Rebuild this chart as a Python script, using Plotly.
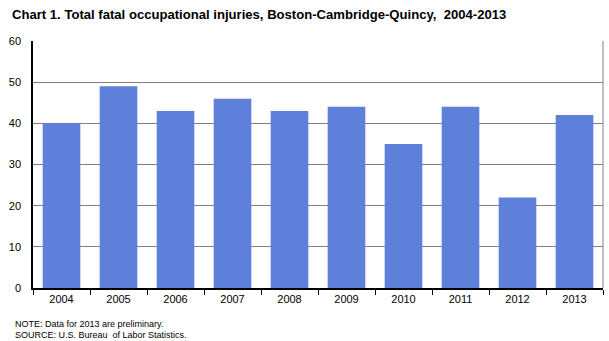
import plotly.graph_objects as go

years = ["2004", "2005", "2006", "2007", "2008", "2009", "2010", "2011", "2012", "2013"]
fatal_injuries = [40, 49, 43, 46, 43, 44, 35, 44, 22, 42]
y_ticks = [0, 10, 20, 30, 40, 50, 60]

fig = go.Figure(
    go.Bar(
        x=years,
        y=fatal_injuries,
        marker=dict(color="#5f80da", line=dict(width=0)),
        width=0.66,
    )
)

fig.update_layout(
    width=609,
    height=341,
    margin=dict(l=33, r=6, t=41, b=53),
    paper_bgcolor="white",
    plot_bgcolor="white",
    showlegend=False,
    font=dict(family="Arial, Liberation Sans, sans-serif", size=11, color="#000"),
    title=dict(
        text="<b>Chart 1. Total fatal occupational injuries, Boston-Cambridge-Quincy,  2004-2013</b>",
        x=0.0,
        xref="paper",
        xanchor="left",
        y=0.957,
        yanchor="middle",
        font=dict(size=13.1, family="Arial, Liberation Sans, sans-serif"),
        pad=dict(l=-21),
    ),
    xaxis=dict(
        type="category",
        tickson="boundaries",
        ticks="outside",
        ticklen=5,
        tickcolor="black",
        showline=True,
        linecolor="black",
        linewidth=1.5,
        showgrid=False,
        tickfont=dict(size=11),
    ),
    yaxis=dict(
        range=[0, 60],
        tickvals=y_ticks,
        showline=True,
        linecolor="black",
        linewidth=1.5,
        showgrid=True,
        gridcolor="#808080",
        gridwidth=1,
        zeroline=False,
        ticks="",
        ticklabelstandoff=8,
        tickfont=dict(size=11),
    ),
    shapes=[
        dict(type="line", xref="paper", yref="paper", x0=1, x1=1, y0=0, y1=1,
             line=dict(color="#808080", width=1)),
    ],
    annotations=[
        dict(text="NOTE: Data for 2013 are preliminary.", xref="paper", yref="paper",
             x=-0.035, y=-0.145, xanchor="left", yanchor="middle", showarrow=False,
             font=dict(size=9)),
        dict(text="SOURCE: U.S. Bureau  of Labor Statistics.", xref="paper", yref="paper",
             x=-0.035, y=-0.19, xanchor="left", yanchor="middle", showarrow=False,
             font=dict(size=9)),
    ],
)

fig.write_html("out.html")
